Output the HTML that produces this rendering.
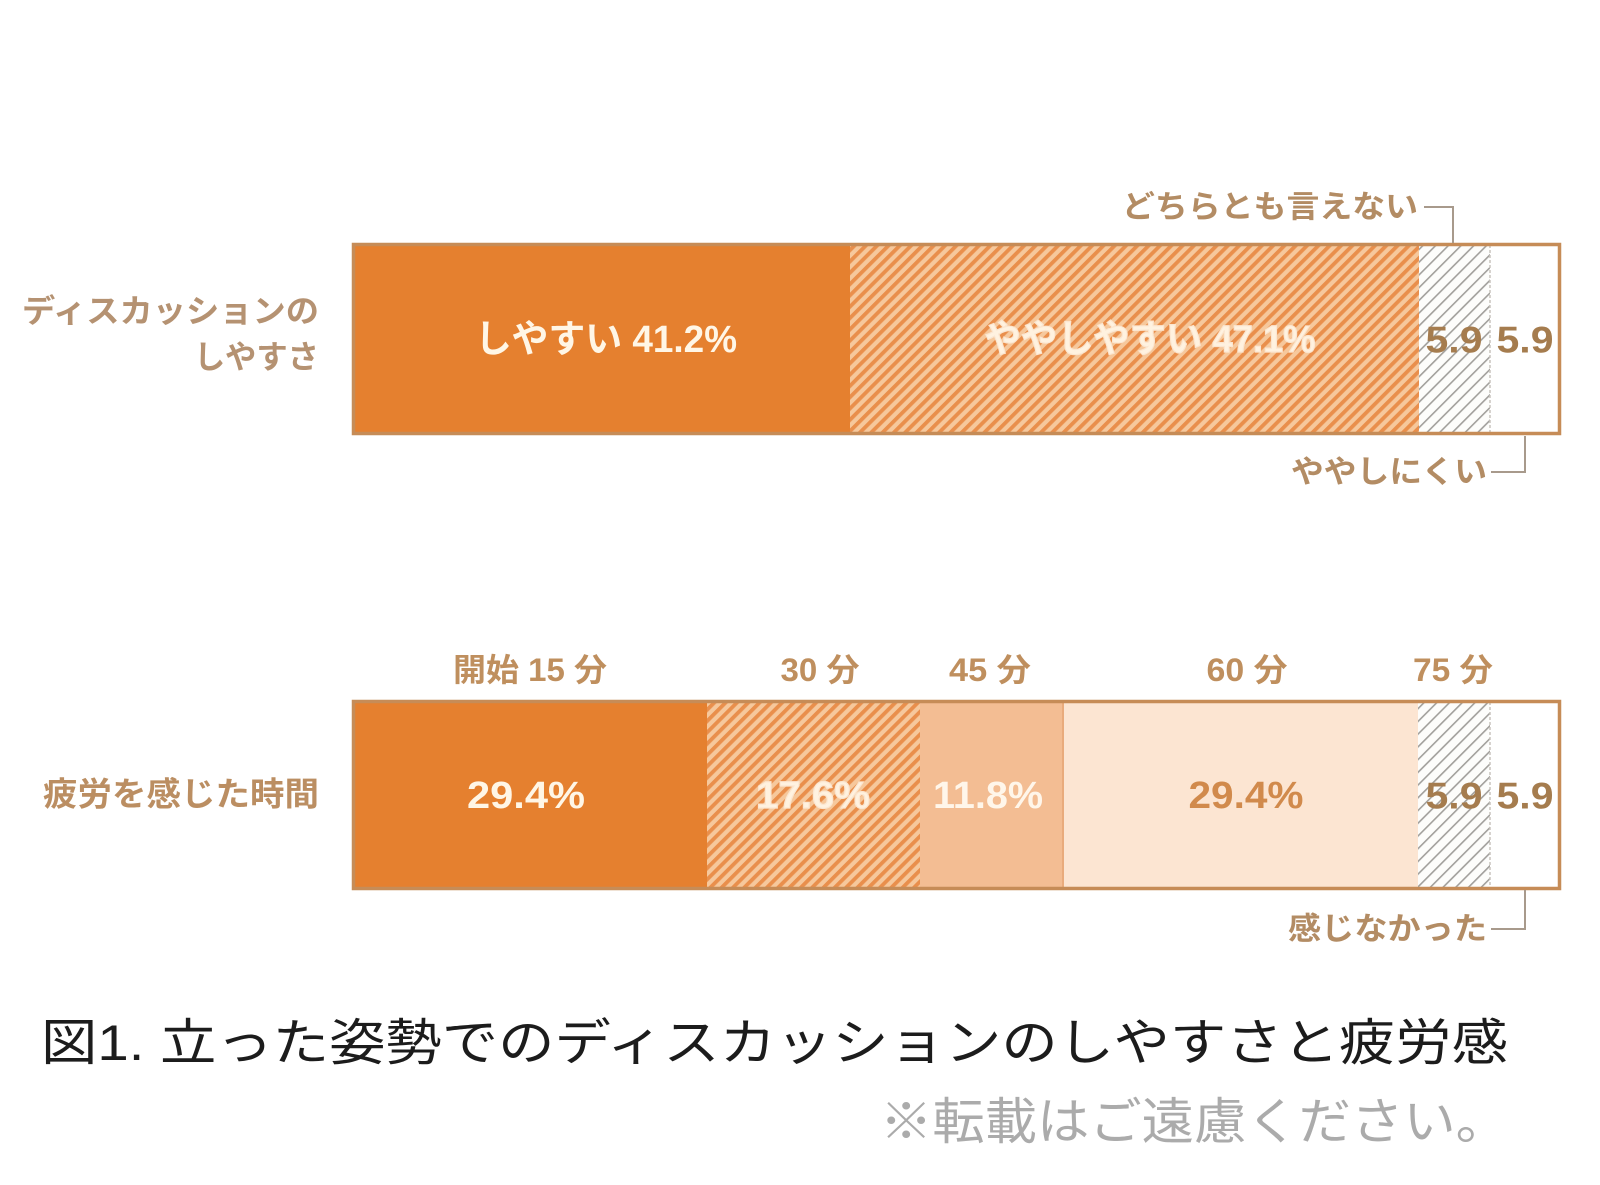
<!DOCTYPE html>
<html><head><meta charset="utf-8"><style>
html,body{margin:0;padding:0;background:#fff;}
svg{display:block;}
text{font-family:"Liberation Sans","Noto Sans CJK JP",sans-serif;}
.b{font-weight:bold;}
</style></head><body>
<svg width="1600" height="1185" viewBox="0 0 1600 1185" xmlns="http://www.w3.org/2000/svg">
<defs>
<pattern id="oh" width="8" height="8" patternUnits="userSpaceOnUse" patternTransform="rotate(45)">
<rect width="8" height="8" fill="#f6c89c"/>
<rect x="0" y="0" width="3.8" height="8" fill="#e98f4c"/>
</pattern>
<pattern id="gh" width="9" height="9" patternUnits="userSpaceOnUse" patternTransform="rotate(45)">
<rect width="9" height="9" fill="#fdfdfb"/>
<rect x="0" y="0" width="1.6" height="9" fill="#a2a09c"/>
</pattern>
</defs>
<rect width="1600" height="1185" fill="#ffffff"/>

<!-- Bar 1 -->
<rect x="352" y="243" width="498" height="192" fill="#e5802f"/>
<rect x="850" y="243" width="569" height="192" fill="url(#oh)"/>
<rect x="1419" y="243" width="71" height="192" fill="url(#gh)"/>
<rect x="1490" y="243" width="71" height="192" fill="#ffffff"/>
<line x1="1490" y1="245" x2="1490" y2="433" stroke="#c8c4bd" stroke-width="1.5" stroke-dasharray="3 2"/>
<rect x="353.5" y="244.5" width="1206" height="189" fill="none" stroke="#c68c57" stroke-width="3.5"/>

<text x="606" y="340" class="b" font-size="38" fill="#fff6e6" text-anchor="middle" dominant-baseline="central" textLength="262" lengthAdjust="spacingAndGlyphs">しやすい 41.2%</text>
<text x="1150" y="340" class="b" font-size="38" fill="#fff2e0" stroke="#fbe6d0" stroke-width="1.2" text-anchor="middle" dominant-baseline="central" textLength="331" lengthAdjust="spacingAndGlyphs">ややしやすい 47.1%</text>
<text x="1454" y="340" class="b" font-size="37" fill="#a57c4e" text-anchor="middle" dominant-baseline="central" textLength="57" lengthAdjust="spacingAndGlyphs">5.9</text>
<text x="1525" y="340" class="b" font-size="37" fill="#a57c4e" text-anchor="middle" dominant-baseline="central" textLength="57" lengthAdjust="spacingAndGlyphs">5.9</text>

<text x="1418" y="207" class="b" font-size="31" fill="#b38c64" text-anchor="end" dominant-baseline="central" textLength="296" lengthAdjust="spacingAndGlyphs">どちらとも言えない</text>
<polyline points="1424,207 1453,207 1453,243" fill="none" stroke="#a89a8c" stroke-width="2"/>
<text x="1487" y="472" class="b" font-size="31" fill="#b38c64" text-anchor="end" dominant-baseline="central" textLength="196" lengthAdjust="spacingAndGlyphs">ややしにくい</text>
<polyline points="1525,436 1525,472 1491,472" fill="none" stroke="#a89a8c" stroke-width="2"/>

<text x="319" y="311" class="b" font-size="32" fill="#b59272" text-anchor="end" dominant-baseline="central" textLength="297" lengthAdjust="spacingAndGlyphs">ディスカッションの</text>
<text x="319" y="357" class="b" font-size="32" fill="#b59272" text-anchor="end" dominant-baseline="central" textLength="125" lengthAdjust="spacingAndGlyphs">しやすさ</text>

<!-- Bar 2 -->
<text x="530" y="670" class="b" font-size="32" fill="#bf8f5e" text-anchor="middle" dominant-baseline="central" textLength="154" lengthAdjust="spacingAndGlyphs">開始 15 分</text>
<text x="820" y="670" class="b" font-size="32" fill="#bf8f5e" text-anchor="middle" dominant-baseline="central" textLength="79" lengthAdjust="spacingAndGlyphs">30 分</text>
<text x="990" y="670" class="b" font-size="32" fill="#bf8f5e" text-anchor="middle" dominant-baseline="central" textLength="82" lengthAdjust="spacingAndGlyphs">45 分</text>
<text x="1247" y="670" class="b" font-size="32" fill="#bf8f5e" text-anchor="middle" dominant-baseline="central" textLength="81" lengthAdjust="spacingAndGlyphs">60 分</text>
<text x="1453" y="670" class="b" font-size="32" fill="#bf8f5e" text-anchor="middle" dominant-baseline="central" textLength="80" lengthAdjust="spacingAndGlyphs">75 分</text>

<rect x="352" y="700" width="355" height="190" fill="#e5802f"/>
<rect x="707" y="700" width="213" height="190" fill="url(#oh)"/>
<rect x="920" y="700" width="143" height="190" fill="#f3bd93"/>
<rect x="1063" y="700" width="355" height="190" fill="#fce5d2"/>
<rect x="1418" y="700" width="72" height="190" fill="url(#gh)"/>
<rect x="1490" y="700" width="71" height="190" fill="#ffffff"/>
<line x1="1063" y1="702" x2="1063" y2="888" stroke="#e9ab7c" stroke-width="2"/>
<line x1="1490" y1="702" x2="1490" y2="888" stroke="#c8c4bd" stroke-width="1.5" stroke-dasharray="3 2"/>
<rect x="353.5" y="701.5" width="1206" height="187" fill="none" stroke="#c68c57" stroke-width="3.5"/>

<text x="526" y="796" class="b" font-size="38" fill="#fff6e6" text-anchor="middle" dominant-baseline="central" textLength="118" lengthAdjust="spacingAndGlyphs">29.4%</text>
<text x="813" y="796" class="b" font-size="38" fill="#fff2e0" stroke="#fbe6d0" stroke-width="1.2" text-anchor="middle" dominant-baseline="central" textLength="114" lengthAdjust="spacingAndGlyphs">17.6%</text>
<text x="988" y="796" class="b" font-size="38" fill="#fff6ea" text-anchor="middle" dominant-baseline="central" textLength="110" lengthAdjust="spacingAndGlyphs">11.8%</text>
<text x="1246" y="796" class="b" font-size="38" fill="#d18a4c" text-anchor="middle" dominant-baseline="central" textLength="115" lengthAdjust="spacingAndGlyphs">29.4%</text>
<text x="1454" y="796" class="b" font-size="37" fill="#a57c4e" text-anchor="middle" dominant-baseline="central" textLength="57" lengthAdjust="spacingAndGlyphs">5.9</text>
<text x="1525" y="796" class="b" font-size="37" fill="#a57c4e" text-anchor="middle" dominant-baseline="central" textLength="57" lengthAdjust="spacingAndGlyphs">5.9</text>

<text x="319" y="794" class="b" font-size="33" fill="#bb8e62" text-anchor="end" dominant-baseline="central" textLength="276" lengthAdjust="spacingAndGlyphs">疲労を感じた時間</text>

<text x="1487" y="929" class="b" font-size="31" fill="#b38c64" text-anchor="end" dominant-baseline="central" textLength="199" lengthAdjust="spacingAndGlyphs">感じなかった</text>
<polyline points="1525,890 1525,929 1491,929" fill="none" stroke="#a89a8c" stroke-width="2"/>

<!-- Caption -->
<text x="41" y="1043" font-size="50" fill="#1c1c1c" dominant-baseline="central" textLength="1467" lengthAdjust="spacingAndGlyphs">図1.  立った姿勢でのディスカッションのしやすさと疲労感</text>
<text x="1508" y="1122" font-size="50" fill="#ababab" text-anchor="end" dominant-baseline="central" textLength="628" lengthAdjust="spacingAndGlyphs">※転載はご遠慮ください。</text>
</svg>
</body></html>
